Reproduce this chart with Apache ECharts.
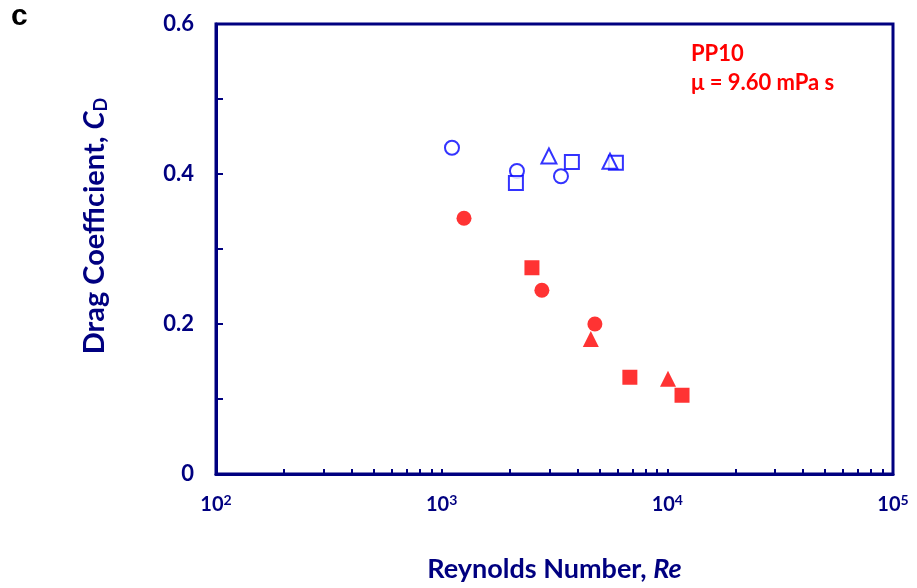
<!DOCTYPE html>
<html><head><meta charset="utf-8">
<script src="https://cdn.jsdelivr.net/npm/echarts@6/dist/echarts.min.js"></script>
<style>html,body{margin:0;padding:0;background:#fff;overflow:hidden}#c{width:917px;height:588px}</style>
</head><body><div id="c"></div>
<script>
// Re and C_D values
const openCircleRe = [1111, 2156, 3378];
const openCircleCd = [0.435, 0.404, 0.397];
const openSquareRe = [2133, 3776, 5916];
const openSquareCd = [0.388, 0.416, 0.415];
const openTriRe = [2987, 5570];
const openTriCd = [0.424, 0.417];
const fillCircleRe = [1256, 2780, 4775];
const fillCircleCd = [0.341, 0.245, 0.200];
const fillSquareRe = [2512, 6823, 11617];
const fillSquareCd = [0.275, 0.129, 0.105];
const fillTriRe = [4581, 10070];
const fillTriCd = [0.180, 0.127];

const xMajor = [100, 1000, 10000, 100000];
const xTicks = [100,200,300,400,500,600,700,800,900,1000,2000,3000,4000,5000,6000,7000,8000,9000,10000,20000,30000,40000,50000,60000,70000,80000,90000,100000];
const yLabels = [0, 0.2, 0.4, 0.6];

const NAVY = '#000080';
const BLUE = '#0000FF';
const RED = '#FF0000';
const FONT = 'Lato';

function pts(xs, ys){ return xs.map((x,i)=>[x, ys[i]]); }
function openSeries(xs, ys, sym, size){
  return {type:'scatter', data: pts(xs,ys), symbol: sym, symbolSize: size,
    itemStyle:{color:'#fff', borderColor: BLUE, borderWidth: 2}, z: 3};
}
function fillSeries(xs, ys, sym, size){
  return {type:'scatter', data: pts(xs,ys), symbol: sym, symbolSize: size,
    itemStyle:{color: RED}, z: 3};
}
const supMap = {100:'2', 1000:'3', 10000:'4', 100000:'5'};

const chart = echarts.init(document.getElementById('c'), null, {renderer:'canvas', width: 917, height: 588});
chart.setOption({
  animation: false,
  grid: {left: 216, width: 677, top: 24, height: 450, show: true, borderColor: NAVY, borderWidth: 3, backgroundColor:'transparent'},
  xAxis: {
    type: 'log', min: 100, max: 100000, logBase: 10,
    axisLine: {show: true, lineStyle: {color: NAVY, width: 3}},
    axisTick: {show: true, inside: true, length: 5, lineStyle: {color: NAVY, width: 2}, customValues: xTicks},
    splitLine: {show: false},
    axisLabel: {customValues: xMajor, margin: 19, color: NAVY,
      formatter: v => '{b|10}{s|' + supMap[Math.round(v)] + '}',
      rich: {b: {fontFamily: FONT, fontWeight: 'bold', fontSize: 20, color: NAVY},
             s: {fontFamily: FONT, fontWeight: 'bold', fontSize: 14, color: NAVY, verticalAlign: 'top', padding:[0,0,9,0]}}},
    name: '{n|Reynolds Number, }{i|Re}', nameLocation: 'middle', nameGap: 82,
    nameTextStyle: {rich: {n: {fontFamily: FONT, fontWeight: 'bold', fontSize: 27, color: NAVY},
                           i: {fontFamily: FONT, fontWeight: 'bold', fontStyle: 'italic', fontSize: 27, color: NAVY}}}
  },
  yAxis: {
    type: 'value', min: 0, max: 0.6, interval: 0.1,
    axisLine: {show: true, lineStyle: {color: NAVY, width: 3}},
    axisTick: {show: true, inside: true, length: 7, lineStyle: {color: NAVY, width: 2}},
    splitLine: {show: false},
    axisLabel: {margin: 22, color: NAVY, fontFamily: FONT, fontWeight: 'bold', fontSize: 22,
      customValues: yLabels,
      formatter: v => (Math.abs(v) < 1e-9 ? '0' : v.toFixed(1))}
  },
  graphic: [
    {type: 'text', x: 95, y: 226, rotation: Math.PI / 2,
     style: {text: '{n|Drag Coefficient, }{i|C}{sub|D}', align: 'center', verticalAlign: 'middle',
       rich: {n: {fontFamily: FONT, fontWeight: 'bold', fontSize: 29, fill: NAVY},
              i: {fontFamily: FONT, fontWeight: 'bold', fontStyle: 'italic', fontSize: 29, fill: NAVY},
              sub: {fontFamily: FONT, fontWeight: 'bold', fontSize: 18, fill: NAVY, verticalAlign: 'bottom', padding:[12,0,0,0]}}}},
    {type: 'text', left: 11, top: 2, style: {text: 'c', fontFamily: 'Liberation Sans', fontWeight: 'bold', fontSize: 30, fill: '#000'}},
    {type: 'text', x: 691, y: 54, style: {text: 'PP10', fontFamily: FONT, fontWeight: 'bold', fontSize: 22, fill: RED, align: 'left', verticalAlign: 'middle'}},
    {type: 'text', x: 691, y: 83, style: {text: 'μ = 9.60 mPa s', fontFamily: FONT, fontWeight: 'bold', fontSize: 22, fill: RED, align: 'left', verticalAlign: 'middle'}}
  ],
  series: [
    openSeries(openCircleRe, openCircleCd, 'circle', 14),
    openSeries(openSquareRe, openSquareCd, 'rect', 14),
    openSeries(openTriRe, openTriCd, 'triangle', 15),
    fillSeries(fillCircleRe, fillCircleCd, 'circle', 15),
    fillSeries(fillSquareRe, fillSquareCd, 'rect', 15),
    fillSeries(fillTriRe, fillTriCd, 'triangle', 16)
  ]
});
</script></body></html>
